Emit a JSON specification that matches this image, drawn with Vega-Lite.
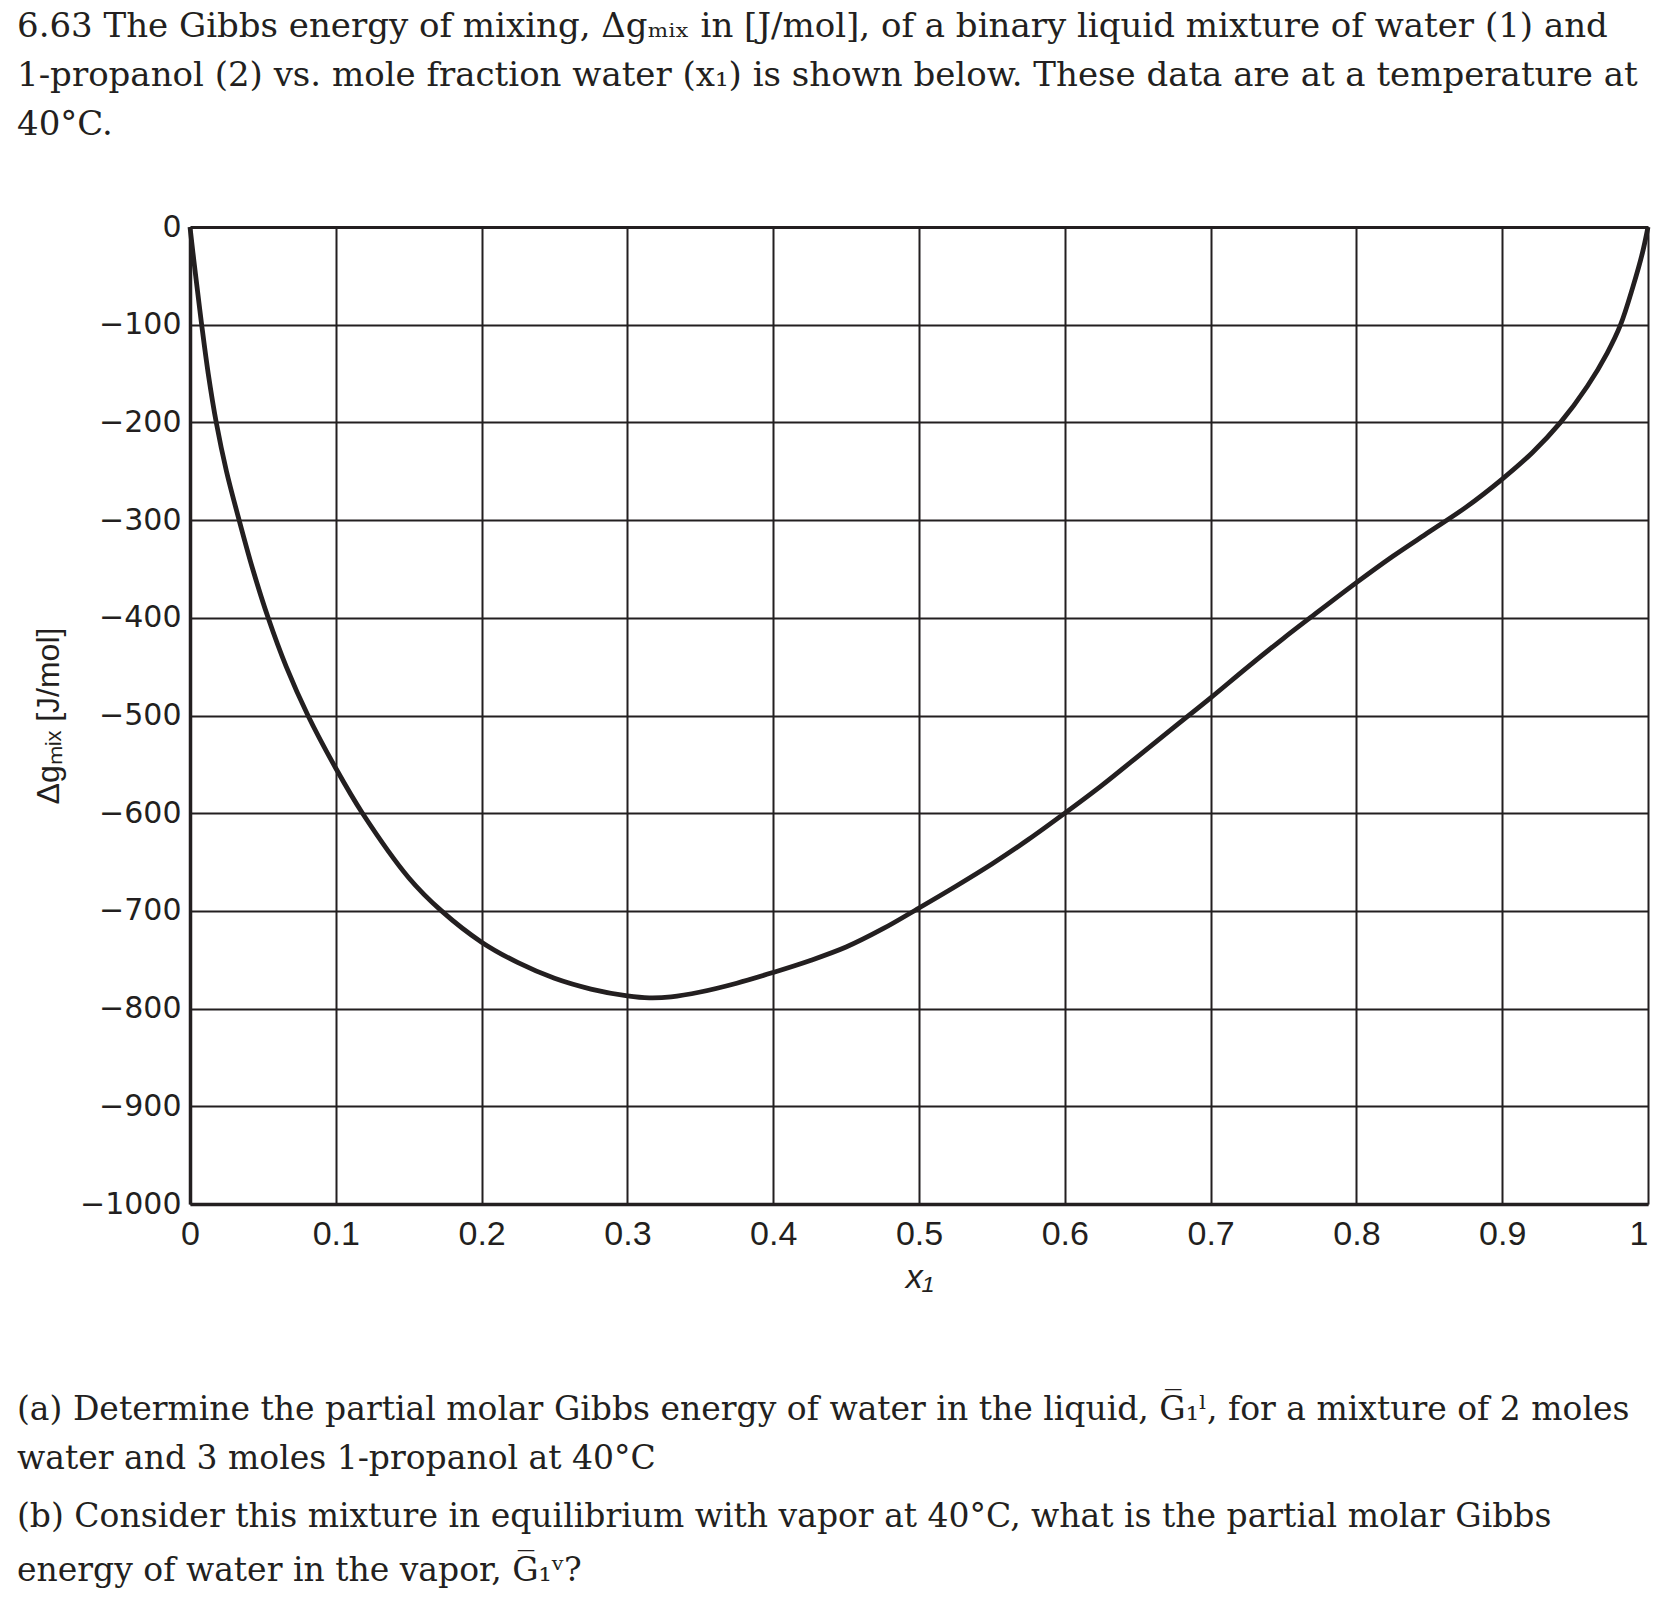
{
  "$schema": "https://vega.github.io/schema/vega-lite/v6.json",
  "background": "white",
  "padding": {"left": 17, "top": 10, "right": 0, "bottom": 0},
  "title": {
    "text": ["(a)  Determine the partial molar Gibbs energy of water in the liquid, G̅₁ˡ, for a mixture of 2 moles", "water and 3 moles 1-propanol at 40°C"],
    "subtitle": ["(b)  Consider this mixture in equilibrium with vapor at 40°C, what is the partial molar Gibbs", "energy of water in the vapor, G̅₁ᵛ?"],
    "orient": "bottom",
    "anchor": "start",
    "frame": "group",
    "dx": -173,
    "offset": 100,
    "font": "DejaVu Serif",
    "fontSize": 33,
    "fontWeight": "normal",
    "color": "#231f20",
    "lineHeight": 49,
    "subtitleFont": "DejaVu Serif",
    "subtitleFontSize": 33,
    "subtitleColor": "#231f20",
    "subtitleLineHeight": 54,
    "subtitlePadding": 25
  },
  "vconcat": [
    {
      "width": 1458,
      "height": 977,
      "title": {
        "text": ["6.63 The Gibbs energy of mixing, Δgₘᵢₓ in [J/mol], of a binary liquid mixture of water (1) and", "1-propanol (2) vs. mole fraction water (x₁) is shown below. These data are at a temperature at", "40°C."],
        "anchor": "start",
        "frame": "group",
        "dx": -173,
        "offset": 70,
        "font": "DejaVu Serif",
        "fontSize": 34,
        "fontWeight": "normal",
        "color": "#231f20",
        "lineHeight": 49
      },
      "data": {
        "values": [
          {"x1": 0, "g": 0},
          {"x1": 0.002, "g": -26},
          {"x1": 0.0039, "g": -50},
          {"x1": 0.008, "g": -100},
          {"x1": 0.0125, "g": -150},
          {"x1": 0.018, "g": -200},
          {"x1": 0.025, "g": -250},
          {"x1": 0.0337, "g": -300},
          {"x1": 0.043, "g": -350},
          {"x1": 0.0536, "g": -400},
          {"x1": 0.066, "g": -450},
          {"x1": 0.0809, "g": -500},
          {"x1": 0.1, "g": -554},
          {"x1": 0.1183, "g": -600},
          {"x1": 0.15, "g": -666},
          {"x1": 0.1725, "g": -700},
          {"x1": 0.2, "g": -732},
          {"x1": 0.225, "g": -753},
          {"x1": 0.25, "g": -769},
          {"x1": 0.275, "g": -780},
          {"x1": 0.3, "g": -787},
          {"x1": 0.315, "g": -789},
          {"x1": 0.33, "g": -788},
          {"x1": 0.35, "g": -783},
          {"x1": 0.375, "g": -774},
          {"x1": 0.4, "g": -763},
          {"x1": 0.425, "g": -751},
          {"x1": 0.45, "g": -737},
          {"x1": 0.475, "g": -718.5},
          {"x1": 0.5, "g": -697},
          {"x1": 0.525, "g": -675},
          {"x1": 0.55, "g": -652},
          {"x1": 0.575, "g": -627},
          {"x1": 0.6, "g": -600},
          {"x1": 0.625, "g": -572},
          {"x1": 0.65, "g": -542},
          {"x1": 0.675, "g": -512},
          {"x1": 0.7, "g": -482},
          {"x1": 0.725, "g": -451},
          {"x1": 0.75, "g": -421},
          {"x1": 0.77, "g": -398},
          {"x1": 0.8, "g": -364},
          {"x1": 0.825, "g": -337},
          {"x1": 0.85, "g": -312},
          {"x1": 0.875, "g": -287},
          {"x1": 0.9, "g": -258},
          {"x1": 0.9206, "g": -231},
          {"x1": 0.94, "g": -200},
          {"x1": 0.9584, "g": -163},
          {"x1": 0.972, "g": -129},
          {"x1": 0.9812, "g": -100},
          {"x1": 0.9897, "g": -61},
          {"x1": 0.9961, "g": -27},
          {"x1": 1, "g": 0}
        ]
      },
      "mark": {"type": "line", "color": "#231f20", "strokeWidth": 4.8, "interpolate": "catmull-rom"},
      "encoding": {
        "x": {
          "field": "x1",
          "type": "quantitative",
          "scale": {"domain": [0, 1], "nice": false, "zero": false},
          "axis": {
            "title": "x₁",
            "values": [0, 0.1, 0.2, 0.3, 0.4, 0.5, 0.6, 0.7, 0.8, 0.9, 1],
            "format": ".1~f",
            "labelFont": "Liberation Sans",
            "labelFontSize": 34,
            "labelColor": "#231f20",
            "labelPadding": 13,
            "labelFlush": false,
            "labelAlign": {"condition": {"test": "datum.value === 1", "value": "right"}, "value": "center"},
            "ticks": false,
            "domainColor": "#231f20",
            "domainWidth": 3.5,
            "grid": true,
            "gridColor": "#231f20",
            "gridOpacity": 1,
            "gridWidth": 2,
            "titleFont": "Liberation Sans",
            "titleFontSize": 34,
            "titleFontStyle": "italic",
            "titleFontWeight": "normal",
            "titleColor": "#231f20",
            "titlePadding": 9
          }
        },
        "y": {
          "field": "g",
          "type": "quantitative",
          "scale": {"domain": [-1000, 0], "nice": false},
          "axis": {
            "title": "Δgₘᵢₓ [J/mol]",
            "values": [0, -100, -200, -300, -400, -500, -600, -700, -800, -900, -1000],
            "format": "d",
            "labelFont": "DejaVu Sans",
            "labelFontSize": 30,
            "labelColor": "#231f20",
            "labelPadding": 9,
            "labelFlush": false,
            "ticks": false,
            "domainColor": "#231f20",
            "domainWidth": 3.5,
            "grid": true,
            "gridColor": "#231f20",
            "gridOpacity": 1,
            "gridWidth": {"condition": {"test": "datum.value === 0", "value": 3.2}, "value": 2},
            "titleFont": "Liberation Sans",
            "titleFontSize": 32,
            "titleFontWeight": "normal",
            "titleColor": "#231f20",
            "titlePadding": 14
          }
        }
      }
    }
  ],
  "config": {
    "view": {"stroke": null}
  }
}
